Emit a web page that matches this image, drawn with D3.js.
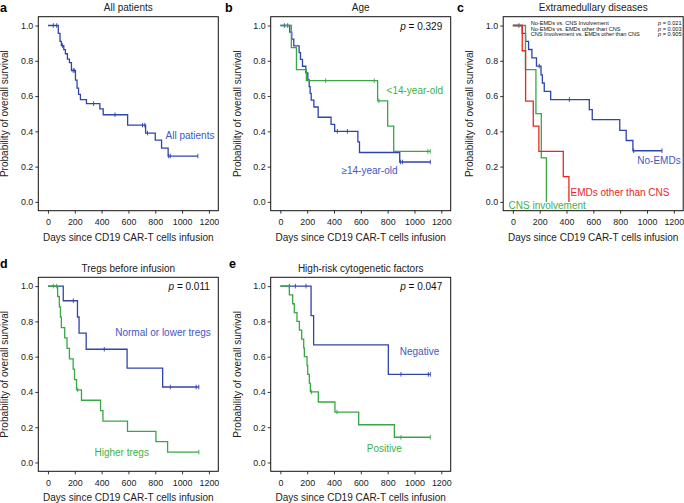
<!DOCTYPE html>
<html><head><meta charset="utf-8">
<script src="https://cdn.jsdelivr.net/npm/d3@7"></script>
<style>body{margin:0;background:#fff;} text{font-family:"Liberation Sans",Arial,Helvetica,sans-serif;}</style>
</head><body><svg id="chart" width="684" height="503"></svg>
<script>
// ---------- tick labels ----------
const xTicks = [0, 200, 400, 600, 800, 1000, 1200];
const yTicks = [0, 0.2, 0.4, 0.6, 0.8, 1.0];

// ---------- panel a: all patients ----------
const aTimes = [77, 90, 100, 118, 130, 145, 160, 175, 205, 217, 228, 242, 287, 387, 412, 594, 728, 800, 847, 896];
const aSurv  = [0.955, 0.91, 0.886, 0.863, 0.84, 0.81, 0.79, 0.745, 0.69, 0.645, 0.61, 0.58, 0.557, 0.527, 0.494, 0.435, 0.39, 0.35, 0.305, 0.26];
const aCensor = [40, 65, 108, 188, 196, 340, 500, 705, 722, 742, 900, 912, 1118];

// ---------- panel b: age ----------
const bYoungTimes = [82, 120, 194, 725, 800, 845];
const bYoungSurv  = [0.875, 0.75, 0.6875, 0.573, 0.43, 0.286];
const bYoungCensor = [338, 700, 735, 1100, 1118];
const bOldTimes = [70, 85, 100, 140, 150, 165, 190, 205, 215, 222, 230, 250, 282, 378, 405, 578, 590, 890];
const bOldSurv  = [0.962, 0.923, 0.885, 0.846, 0.808, 0.769, 0.731, 0.692, 0.654, 0.615, 0.577, 0.538, 0.48, 0.44, 0.40, 0.34, 0.28, 0.226];
const bOldCensor = [30, 55, 425, 500, 895, 910, 1118];

// ---------- panel c: extramedullary diseases ----------
const cNoTimes = [70, 95, 117, 142, 176, 210, 220, 234, 282, 570, 592, 797, 845, 895];
const cNoSurv  = [0.955, 0.91, 0.864, 0.816, 0.77, 0.72, 0.674, 0.627, 0.58, 0.523, 0.466, 0.405, 0.348, 0.29];
const cNoCensor = [45, 197, 421, 901, 1112];
const cCnsTimes = [94, 172, 212, 250];
const cCnsSurv  = [0.75, 0.5, 0.25, 0];
const cCnsCensor = [];
const cEmdTimes = [70, 95, 152, 194, 376, 418];
const cEmdSurv  = [0.857, 0.571, 0.429, 0.286, 0.143, 0];
const cEmdCensor = [];
const cCompare = ["No-EMDs vs. CNS Involvement", "No-EMDs vs. EMDs other than CNS", "CNS Involvement vs. EMDs other than CNS"];
const cPvalues = ["0.021", "0.003", "0.905"];

// ---------- panel d: tregs ----------
const dLowTimes = [114, 220, 232, 285, 590, 855];
const dLowSurv  = [0.917, 0.825, 0.733, 0.642, 0.535, 0.428];
const dLowCensor = [189, 420, 912, 1105, 1125];
const dHighTimes = [72, 85, 93, 100, 125, 142, 160, 188, 198, 213, 250, 392, 410, 593, 805, 892];
const dHighSurv  = [0.941, 0.882, 0.824, 0.765, 0.706, 0.647, 0.588, 0.529, 0.47, 0.412, 0.353, 0.294, 0.235, 0.176, 0.118, 0.059];
const dHighCensor = [40, 65, 222, 1125];

// ---------- panel e: cytogenetics ----------
const eNegTimes = [229, 248, 805];
const eNegSurv  = [0.833, 0.667, 0.5];
const eNegCensor = [67, 112, 191, 899, 1103, 1118];
const ePosTimes = [67, 92, 104, 124, 142, 159, 174, 179, 199, 204, 216, 224, 283, 407, 584, 850];
const ePosSurv  = [0.95, 0.90, 0.85, 0.80, 0.75, 0.70, 0.65, 0.60, 0.55, 0.50, 0.45, 0.40, 0.343, 0.286, 0.214, 0.143];
const ePosCensor = [233, 422, 899, 1118];

const pValues = {b: "0.329", d: "0.011", e: "0.047"};

// ---------- styling ----------
const BLUE = "#2f44ad", BLUE_T = "#4257c4";
const GREEN = "#37a844", GREEN_T = "#3cb14a";
const RED = "#e8281f", RED_T = "#e8281f";
const W = 180, H = 194;

const svg = d3.select("#chart");

const panels = [
  {letter: "a", title: "All patients", L: 38.3, T: 16.7,
   series: [{t: aTimes, s: aSurv, c: aCensor, color: BLUE}],
   labels: [{text: "All patients", x: 190, y: 139, color: BLUE_T}]},
  {letter: "b", title: "Age", L: 270.7, T: 16.7, p: pValues.b,
   series: [{t: bOldTimes, s: bOldSurv, c: bOldCensor, color: BLUE},
            {t: bYoungTimes, s: bYoungSurv, c: bYoungCensor, color: GREEN}],
   labels: [{text: "<14-year-old", x: 414.8, y: 93.5, color: GREEN_T},
            {text: "\u226514-year-old", x: 369.5, y: 173.5, color: BLUE_T}]},
  {letter: "c", title: "Extramedullary diseases", L: 503.2, T: 16.7, legend: true,
   series: [{t: cNoTimes, s: cNoSurv, c: cNoCensor, color: BLUE},
            {t: cCnsTimes, s: cCnsSurv, c: cCnsCensor, color: GREEN},
            {t: cEmdTimes, s: cEmdSurv, c: cEmdCensor, color: RED}],
   labels: [{text: "No-EMDs", x: 659, y: 163.5, color: BLUE_T},
            {text: "EMDs other than CNS", x: 620, y: 196, color: RED_T},
            {text: "CNS involvement", x: 547.2, y: 209.3, color: GREEN_T}]},
  {letter: "d", title: "Tregs before infusion", L: 38.3, T: 277.3, p: pValues.d,
   series: [{t: dLowTimes, s: dLowSurv, c: dLowCensor, color: BLUE},
            {t: dHighTimes, s: dHighSurv, c: dHighCensor, color: GREEN}],
   labels: [{text: "Normal or lower tregs", x: 163, y: 336, color: BLUE_T},
            {text: "Higher tregs", x: 121.7, y: 456, color: GREEN_T}]},
  {letter: "e", title: "High-risk cytogenetic factors", L: 270.7, T: 277.3, p: pValues.e,
   series: [{t: eNegTimes, s: eNegSurv, c: eNegCensor, color: BLUE},
            {t: ePosTimes, s: ePosSurv, c: ePosCensor, color: GREEN}],
   labels: [{text: "Negative", x: 419.5, y: 355, color: BLUE_T},
            {text: "Positive", x: 384.3, y: 452, color: GREEN_T}]}
];

const letterPos = {a: [0, 12], b: [225, 12], c: [457, 12], d: [0, 268], e: [229, 268]};

function survAt(times, surv, t) {
  let v = 1;
  for (let i = 0; i < times.length; i++) if (times[i] <= t) v = surv[i];
  return v;
}

panels.forEach(p => {
  const g = svg.append("g").attr("transform", `translate(${p.L},${p.T})`);
  const x = d3.scaleLinear().domain([-72, 1270]).range([0, W]);
  const y = d3.scaleLinear().domain([-0.05, 1.05]).range([H, 0]);

  // axes
  const xa = g.append("g").attr("transform", `translate(0,${H})`)
    .call(d3.axisBottom(x).tickValues(xTicks).tickSize(3).tickPadding(5).tickFormat(d3.format("d")));
  const ya = g.append("g")
    .call(d3.axisLeft(y).tickValues(yTicks).tickSize(3).tickPadding(2).tickFormat(d3.format(".1f")));
  [xa, ya].forEach(a => {
    a.select(".domain").remove();
    a.selectAll("line").attr("stroke", "#222").attr("stroke-width", 0.9);
    a.selectAll("text").attr("fill", "#222").style("font-size", "8.9px")
      .style("font-family", "'Liberation Sans',Arial,sans-serif");
  });

  // box
  g.append("rect").attr("width", W).attr("height", H)
    .attr("fill", "none").attr("stroke", "#111").attr("stroke-width", 1);

  // curves
  const line = d3.line().curve(d3.curveStepAfter).x(d => x(d[0])).y(d => y(d[1]));
  p.series.forEach(s => {
    const pts = [[0, 1]];
    s.t.forEach((t, i) => pts.push([t, s.s[i]]));
    const last = s.s[s.s.length - 1];
    if (last > 0) {
      const endT = Math.max(s.t[s.t.length - 1], ...(s.c.length ? s.c : [0]));
      pts.push([endT, last]);
    }
    g.append("path").attr("d", line(pts)).attr("fill", "none")
      .attr("stroke", s.color).attr("stroke-width", 1.3);
    g.selectAll(null).data(s.c).enter().append("line")
      .attr("x1", d => x(d)).attr("x2", d => x(d))
      .attr("y1", d => y(survAt(s.t, s.s, d)) - 2.3)
      .attr("y2", d => y(survAt(s.t, s.s, d)) + 2.3)
      .attr("stroke", s.color).attr("stroke-width", 0.9);
  });

  // titles
  svg.append("text").attr("x", p.L + W / 2).attr("y", p.T - 5.5)
    .attr("text-anchor", "middle").style("font-size", "10px").attr("fill", "#222").text(p.title);
  svg.append("text").attr("x", p.L + W / 2).attr("y", p.T + H + 30)
    .attr("text-anchor", "middle").style("font-size", "10px").attr("fill", "#222")
    .text("Days since CD19 CAR-T cells infusion");
  svg.append("text").attr("transform", `translate(${p.L - 30},${p.T + H / 2}) rotate(-90)`)
    .attr("text-anchor", "middle").style("font-size", "10px").attr("fill", "#222")
    .text("Probability of overall survival");
  const lp = letterPos[p.letter];
  svg.append("text").attr("x", lp[0]).attr("y", lp[1]).style("font-size", "12.5px")
    .style("font-weight", "bold").attr("fill", "#000").text(p.letter);

  // p value
  if (p.p) {
    const t = svg.append("text").attr("x", p.L + W - 8.5).attr("y", p.T + 13)
      .attr("text-anchor", "end").style("font-size", "10px").attr("fill", "#111");
    t.append("tspan").style("font-style", "italic").text("p");
    t.append("tspan").text(" = " + p.p);
  }

  // legend in c
  if (p.legend) {
    cCompare.forEach((txt, i) => {
      svg.append("text").attr("x", 530.7).attr("y", 25 + i * 5.6)
        .style("font-size", "5.6px").attr("fill", "#111").text(txt);
      const t = svg.append("text").attr("x", 681.5).attr("y", 25 + i * 5.6)
        .attr("text-anchor", "end").style("font-size", "5.6px").attr("fill", "#111");
      t.append("tspan").style("font-style", "italic").text("p");
      t.append("tspan").text(" = " + cPvalues[i]);
    });
  }

  // series labels
  p.labels.forEach(l => {
    svg.append("text").attr("x", l.x).attr("y", l.y).attr("text-anchor", "middle")
      .style("font-size", "10px").attr("fill", l.color).text(l.text);
  });
});
</script>
</body></html>
